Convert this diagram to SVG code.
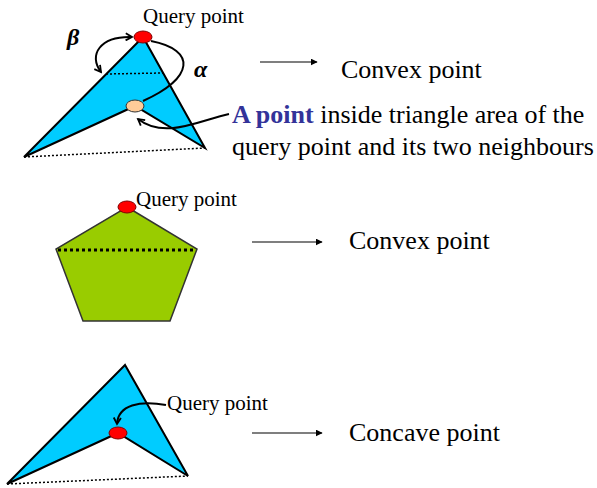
<svg xmlns="http://www.w3.org/2000/svg" width="597" height="488" viewBox="0 0 597 488">
<defs>
<marker id="ah" viewBox="0 0 10 10" refX="9" refY="5" markerWidth="7" markerHeight="7" orient="auto" markerUnits="userSpaceOnUse"><path d="M0,0 L10,5 L0,10 z" fill="#000"/></marker>
<marker id="oh" viewBox="0 0 10 10" refX="8" refY="5" markerWidth="9" markerHeight="9" orient="auto-start-reverse" markerUnits="userSpaceOnUse"><path d="M1,1 L8,5 L1,9" fill="none" stroke="#000" stroke-width="2"/></marker>
</defs>
<style>
.t{font-family:"Liberation Serif","Times New Roman",serif;fill:#000}
.big{font-size:26px}
.sm{font-size:21px}
.greek{font-family:"Liberation Serif",serif;font-style:italic;font-weight:bold;font-size:24px}
.cyan{fill:#00CCFF;stroke:#000;stroke-width:2;stroke-linejoin:miter}
.green{fill:#99CC00;stroke:#333;stroke-width:1.5}
.red{fill:#FF0000;stroke:#800000;stroke-width:1}
.orange{fill:#FFCC99;stroke:#333;stroke-width:1}
.dot{stroke:#000;stroke-width:1.5;stroke-dasharray:2,2;fill:none}
.dotb{stroke:#000;stroke-width:3;stroke-dasharray:3,3;fill:none}
.arr{stroke:#000;stroke-width:1.2;fill:none}
.curve{stroke:#000;stroke-width:2;fill:none}
</style>
<rect width="597" height="488" fill="#fff"/>
<g id="shape-concave-top">
<polygon class="cyan" points="143,37 24,157 135,106 205,148"/>
<line class="dot" x1="24" y1="157" x2="205" y2="148"/>
<line class="dot" x1="106" y1="74" x2="163" y2="73"/>
<ellipse class="red" cx="143" cy="37" rx="9" ry="6"/>
<ellipse class="orange" cx="135" cy="106" rx="9" ry="6"/>
<text class="t sm" x="143" y="23">Query point</text>
<text class="greek" x="67" y="45">β</text>
<text class="greek" x="194" y="77">α</text>
</g>
<g id="label-top">
<text class="t big" x="341" y="78">Convex point</text>
<text class="t big" x="232" y="123"><tspan font-weight="bold" fill="#333399">A point</tspan> inside triangle area of the</text>
<text class="t big" x="232" y="155">query point and its two neighbours</text>
</g>
<g id="shape-pentagon">
<polygon class="green" points="127,207 197,249 170,321 83,321 56,249"/>
<line class="dotb" x1="58" y1="250" x2="196" y2="250"/>
<ellipse class="red" cx="127" cy="207" rx="9" ry="6"/>
<text class="t sm" x="136" y="206">Query point</text>
</g>
<g id="label-middle">
<text class="t big" x="349" y="249">Convex point</text>
</g>
<g id="shape-concave-bottom">
<polygon class="cyan" points="125,365 7,484 118,433 188,476"/>
<line class="dot" x1="7" y1="484" x2="188" y2="476"/>
<ellipse class="red" cx="118" cy="433" rx="9" ry="6"/>
<text class="t sm" x="167" y="410">Query point</text>
</g>
<g id="label-bottom">
<text class="t big" x="349" y="441">Concave point</text>
</g>
<g id="connectors">
<line class="arr" x1="260" y1="62" x2="317" y2="62" marker-end="url(#ah)"/>
<line class="arr" x1="252" y1="242" x2="322" y2="242" marker-end="url(#ah)"/>
<line class="arr" x1="252" y1="433" x2="322" y2="433" marker-end="url(#ah)"/>
<path class="curve" d="M101,72 C88,55 100,36 132,37" marker-start="url(#oh)" marker-end="url(#oh)"/>
<path class="curve" d="M151,41 C197,50 194,78 143,101"/>
<path class="curve" d="M229,114 C200,120 165,140 138,119" marker-end="url(#oh)"/>
<path class="curve" d="M166,405 C140,400 118,405 117,424" marker-end="url(#oh)"/>
</g>
</svg>
